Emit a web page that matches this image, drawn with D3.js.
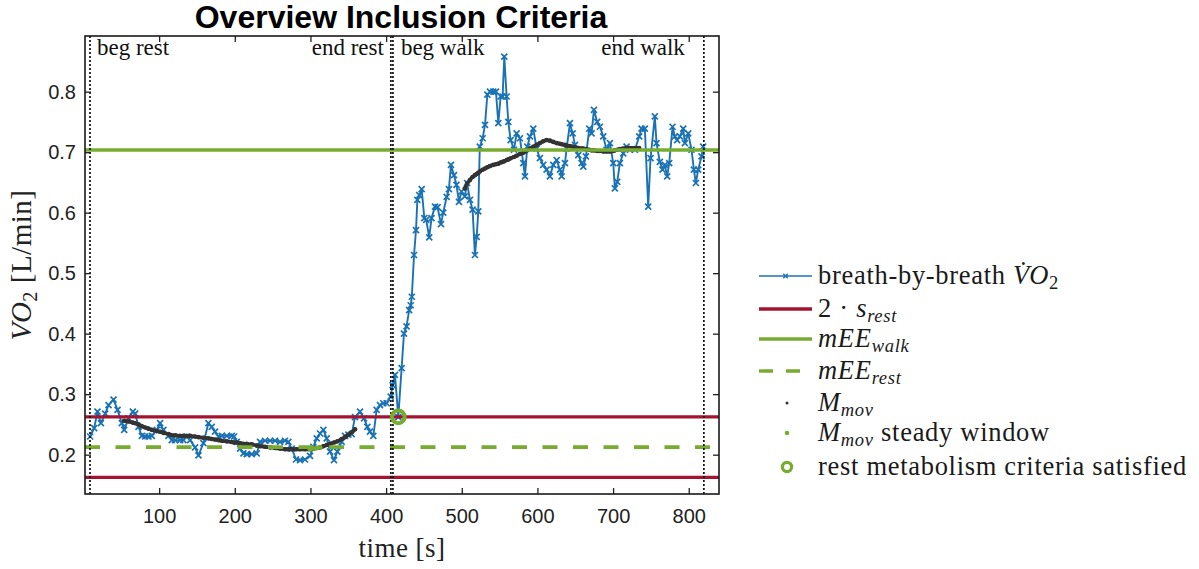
<!DOCTYPE html>
<html>
<head>
<meta charset="utf-8">
<script src="https://cdn.jsdelivr.net/npm/d3@7"></script>
<style>
  body { margin: 0; background: #fff; }
  svg { display: block; }
</style>
</head>
<body>
<svg id="chart" width="1199" height="569"></svg>
<script>
// ---- data ---------------------------------------------------------------
// breath-by-breath oxygen uptake: time [s] and VO2 [L/min]
const breathTime = [
  8.8, 14.1, 18.5, 23.0, 28.7, 33.1, 39.7, 45.0, 50.7, 53.8, 59.5, 65.2, 68.3, 72.7, 77.1, 81.5,
  85.9, 90.3, 96.9, 101.3, 105.7, 112.3, 116.7, 121.1, 127.7, 132.1, 136.5, 140.9, 147.5, 152.0,
  158.5, 165.1, 169.5, 173.9, 178.4, 182.8, 189.4, 196.0, 199.1, 202.6, 207.0, 211.4, 215.8,
  222.4, 229.0, 233.4, 240.0, 246.6, 253.2, 259.8, 266.4, 270.8, 275.2, 281.0, 286.2, 292.8,
  299.4, 303.8, 308.3, 312.7, 317.1, 321.5, 325.9, 331.1, 335.5, 341.3, 345.7, 350.1, 354.5,
  358.9, 365.5, 370.8, 375.2, 378.7, 383.1, 387.5, 391.9, 396.3, 400.7, 406.0, 408.6, 411.7,
  416.1, 420.5, 423.6, 427.0, 430.5, 432.5, 434.0, 436.9, 439.5, 441.3, 443.9, 447.0, 450.5,
  453.0, 457.0, 460.0, 464.6, 468.0, 472.5, 475.5, 480.0, 483.0, 485.7, 489.7, 493.0, 496.3,
  499.6, 504.0, 507.0, 510.8, 514.3, 517.4, 519.7, 521.8, 523.8, 527.6, 530.7, 533.8, 537.3,
  541.7, 545.2, 548.3, 551.4, 554.0, 556.2, 559.3, 561.5, 564.6, 569.0, 572.5, 576.9, 581.3,
  583.5, 586.6, 590.1, 594.5, 598.9, 603.3, 607.7, 612.1, 616.5, 620.9, 625.4, 629.8, 632.0,
  636.4, 638.6, 643.0, 646.5, 649.6, 654.0, 658.4, 660.6, 664.1, 668.5, 671.6, 674.7, 679.0,
  682.6, 687.0, 691.4, 695.8, 700.2, 702.4, 705.5, 709.0, 713.4, 717.8, 722.2, 728.8, 734.5,
  737.6, 742.0, 746.4, 749.5, 755.2, 757.4, 761.8, 765.3, 768.4, 771.5, 774.2, 778.6, 781.7,
  784.7, 788.3, 792.7, 794.9, 799.3, 803.7, 806.8, 809.4, 812.5, 816.9, 819.0
];
const breathVO2 = [
  0.230, 0.244, 0.271, 0.252, 0.268, 0.282, 0.291, 0.274, 0.252, 0.241, 0.260, 0.271, 0.268, 0.246, 0.231, 0.230,
  0.230, 0.231, 0.241, 0.252, 0.241, 0.231, 0.224, 0.224, 0.224, 0.224, 0.230, 0.224, 0.212, 0.199,
  0.219, 0.252, 0.246, 0.238, 0.230, 0.231, 0.231, 0.231, 0.230, 0.221, 0.210, 0.202, 0.201,
  0.201, 0.202, 0.221, 0.223, 0.223, 0.223, 0.221, 0.223, 0.221, 0.210, 0.192, 0.191, 0.192,
  0.198, 0.213, 0.227, 0.235, 0.241, 0.227, 0.205, 0.191, 0.205, 0.221, 0.231, 0.233, 0.234,
  0.262, 0.271, 0.260, 0.246, 0.238, 0.231, 0.274, 0.282, 0.285, 0.285, 0.296, 0.315, 0.332,
  0.262, 0.343, 0.400, 0.412, 0.439, 0.447, 0.461, 0.530, 0.571, 0.621, 0.629, 0.639, 0.591,
  0.588, 0.559, 0.591, 0.610, 0.609, 0.581, 0.600, 0.626, 0.639, 0.679, 0.662, 0.646, 0.618,
  0.635, 0.627, 0.649, 0.621, 0.605, 0.530, 0.560, 0.602, 0.709, 0.723, 0.745, 0.795, 0.800,
  0.800, 0.800, 0.748, 0.792, 0.792, 0.858, 0.792, 0.750, 0.720, 0.704, 0.731, 0.723, 0.682,
  0.660, 0.709, 0.726, 0.739, 0.706, 0.690, 0.679, 0.671, 0.660, 0.679, 0.687, 0.671, 0.660,
  0.682, 0.706, 0.748, 0.731, 0.712, 0.695, 0.682, 0.676, 0.693, 0.739, 0.731, 0.770, 0.750,
  0.742, 0.726, 0.704, 0.715, 0.682, 0.640, 0.651, 0.682, 0.698, 0.709, 0.704, 0.704, 0.726,
  0.739, 0.739, 0.610, 0.690, 0.759, 0.715, 0.684, 0.671, 0.679, 0.660, 0.682, 0.742, 0.726,
  0.720, 0.726, 0.739, 0.715, 0.731, 0.704, 0.671, 0.649, 0.671, 0.693, 0.709
];

// moving mean M_mov (rest block and walk block)
const movTime = [
  53.8, 59.5, 65.2, 68.3, 72.7, 77.1, 81.5, 85.9, 90.3, 96.9, 101.3, 105.7, 112.3, 116.7, 121.1,
  127.7, 132.1, 136.5, 140.9, 147.5, 152.0, 158.5, 165.1, 169.5, 173.9, 178.4, 182.8, 189.4,
  196.0, 199.1, 202.6, 207.0, 211.4, 215.8, 222.4, 229.0, 233.4, 240.0, 246.6, 253.2, 259.8,
  266.4, 270.8, 275.2, 281.0, 286.2, 292.8, 299.4, 303.8, 308.3, 312.7, 317.1, 321.5, 325.9,
  331.1, 335.5, 341.3, 345.7, 350.1, 354.5, 358.9,
  504.0, 507.0, 510.8, 514.3, 517.4, 519.7, 521.8, 523.8, 527.6, 530.7, 533.8, 537.3, 541.7,
  545.2, 548.3, 551.4, 554.0, 556.2, 559.3, 561.5, 564.6, 569.0, 572.5, 576.9, 581.3, 583.5,
  586.6, 590.1, 594.5, 598.9, 603.3, 607.7, 612.1, 616.5, 620.9, 625.4, 629.8, 632.0, 636.4,
  638.6, 643.0, 646.5, 649.6, 654.0, 658.4, 660.6, 664.1, 668.5, 671.6, 674.7, 679.0, 682.6,
  687.0, 691.4, 695.8, 700.2, 702.4, 705.5, 709.0, 713.4, 717.8, 722.2, 728.8, 734.5
];
const movVO2 = [
  0.256, 0.255, 0.253, 0.252, 0.250, 0.247, 0.245, 0.243, 0.241, 0.239, 0.238, 0.236, 0.234, 0.232, 0.232,
  0.231, 0.231, 0.231, 0.231, 0.230, 0.229, 0.228, 0.227, 0.226, 0.225, 0.224, 0.223, 0.222,
  0.221, 0.220, 0.220, 0.219, 0.218, 0.218, 0.217, 0.215, 0.214, 0.213, 0.212, 0.211, 0.210,
  0.209, 0.209, 0.209, 0.209, 0.209, 0.209, 0.209, 0.210, 0.211, 0.212, 0.214, 0.216, 0.218,
  0.220, 0.222, 0.226, 0.229, 0.233, 0.237, 0.242,
  0.640, 0.648, 0.654, 0.659, 0.662, 0.664, 0.666, 0.668, 0.671, 0.673, 0.675, 0.677, 0.679,
  0.680, 0.681, 0.683, 0.684, 0.685, 0.687, 0.688, 0.690, 0.692, 0.694, 0.697, 0.699, 0.701,
  0.703, 0.706, 0.709, 0.712, 0.715, 0.718, 0.720, 0.719, 0.717, 0.715, 0.714, 0.713, 0.712,
  0.711, 0.710, 0.709, 0.708, 0.707, 0.706, 0.706, 0.705, 0.704, 0.703, 0.703, 0.702, 0.702,
  0.701, 0.701, 0.701, 0.702, 0.703, 0.704, 0.705, 0.706, 0.707, 0.707, 0.707, 0.707
];
const movBlocks = [[0, 61], [61, movTime.length]];

// moving mean inside the steady window
const steadyTime = [299.4, 303.8, 308.3, 312.7];
const steadyVO2 = [0.209, 0.210, 0.211, 0.212];

// reference levels [L/min]
const mEEwalk = 0.7035;
const mEErest = 0.2125;
const restBand = [0.1625, 0.2625];   // mEE_rest -/+ 2*s_rest

// rest criterion hit
const criteriaTime = [416.1];
const criteriaVO2 = [0.2625];

// phase markers
const phaseTime = [8.6, 406.3, 409.0, 820.0];
const phaseLabels = ["beg rest", "end rest", "beg walk", "end walk"];
const phaseAnchor = ["start", "end", "start", "end"];
const phaseOffset = [7, -7, 8, -19];

// axes
const xTicks = [100, 200, 300, 400, 500, 600, 700, 800];
const yTicks = [0.2, 0.3, 0.4, 0.5, 0.6, 0.7, 0.8];

// ---- drawing ------------------------------------------------------------
const BLUE = "#1a72b4", RED = "#a2142f", GREEN = "#77ac30", DARK = "#333333";
const SERIF = "'Liberation Serif', 'Times New Roman', serif";
const SANS = "'Liberation Sans', Arial, Helvetica, sans-serif";

const svg = d3.select("#chart");
const L = 85, R = 719, T = 36, B = 494;

const x = d3.scaleLinear().domain([2, 840]).range([L, R]);
const y = d3.scaleLinear().domain([0.135, 0.892]).range([B, T]);

// title
svg.append("text")
  .attr("x", 401).attr("y", 28)
  .attr("text-anchor", "middle")
  .attr("font-family", SANS).attr("font-weight", "bold").attr("font-size", 32)
  .attr("fill", "#000")
  .text("Overview Inclusion Criteria");

const plot = svg.append("g");

// breath-by-breath line with x markers
const breath = breathTime.map((t, i) => [t, breathVO2[i]]);
plot.append("path")
  .datum(breath)
  .attr("fill", "none").attr("stroke", BLUE).attr("stroke-width", 1.9)
  .attr("stroke-linejoin", "round")
  .attr("d", d3.line().x(d => x(d[0])).y(d => y(d[1])));

const cross = 3;
plot.append("g").selectAll("path")
  .data(breath).join("path")
  .attr("transform", d => `translate(${x(d[0])},${y(d[1])})`)
  .attr("d", `M${-cross},${-cross}L${cross},${cross}M${-cross},${cross}L${cross},${-cross}`)
  .attr("stroke", BLUE).attr("stroke-width", 1.7).attr("fill", "none");

// moving mean, drawn as a dense dotted trace
movBlocks.forEach(([a, b]) => {
  const pts = movTime.slice(a, b).map((t, i) => [t, movVO2[a + i]]);
  plot.append("path")
    .datum(pts)
    .attr("fill", "none").attr("stroke", DARK).attr("stroke-width", 3.8)
    .attr("stroke-linecap", "round").attr("stroke-linejoin", "round")
    .attr("d", d3.line().curve(d3.curveMonotoneX).x(d => x(d[0])).y(d => y(d[1])));
});
plot.append("g").selectAll("circle")
  .data(movTime.map((t, i) => [t, movVO2[i]])).join("circle")
  .attr("cx", d => x(d[0])).attr("cy", d => y(d[1])).attr("r", 2.3)
  .attr("fill", DARK);

plot.append("g").selectAll("circle")
  .data(steadyTime.map((t, i) => [t, steadyVO2[i]])).join("circle")
  .attr("cx", d => x(d[0])).attr("cy", d => y(d[1])).attr("r", 2.4)
  .attr("fill", GREEN);

// reference levels
function hline(v, color, dash, width) {
  plot.append("line")
    .attr("x1", L).attr("x2", R).attr("y1", y(v)).attr("y2", y(v))
    .attr("stroke", color).attr("stroke-width", width)
    .attr("stroke-dasharray", dash || null);
}
hline(mEEwalk, GREEN, null, 3.6);
restBand.forEach(v => hline(v, RED, null, 3.2));
hline(mEErest, GREEN, "15,15.5", 3.6);

// phase boundaries
phaseTime.forEach((t, i) => {
  plot.append("line")
    .attr("x1", x(t)).attr("x2", x(t)).attr("y1", T).attr("y2", B)
    .attr("stroke", "#111").attr("stroke-width", 1.7)
    .attr("stroke-dasharray", "2,2");
  plot.append("text")
    .attr("x", x(t) + phaseOffset[i]).attr("y", 55)
    .attr("text-anchor", phaseAnchor[i])
    .attr("font-family", SERIF).attr("font-size", 23).attr("fill", "#111")
    .text(phaseLabels[i]);
});

// rest criterion marker
plot.append("g").selectAll("circle")
  .data(criteriaTime.map((t, i) => [t, criteriaVO2[i]])).join("circle")
  .attr("cx", d => x(d[0])).attr("cy", d => y(d[1])).attr("r", 6.4)
  .attr("fill", "none").attr("stroke", GREEN).attr("stroke-width", 4);

// frame and ticks
const axisStyle = g => {
  g.select(".domain").remove();
  g.selectAll(".tick line").attr("stroke", "#222").attr("stroke-width", 1.3);
  g.selectAll(".tick text").attr("font-family", SANS).attr("font-size", 20).attr("fill", "#222");
};
svg.append("g").attr("transform", `translate(0,${B})`)
  .call(d3.axisBottom(x).tickValues(xTicks).tickSize(-6).tickPadding(15).tickFormat(d3.format("d")))
  .call(axisStyle);
svg.append("g").attr("transform", `translate(0,${T})`)
  .call(d3.axisTop(x).tickValues(xTicks).tickSize(-6).tickFormat(""))
  .call(axisStyle);
svg.append("g").attr("transform", `translate(${L},0)`)
  .call(d3.axisLeft(y).tickValues(yTicks).tickSize(-6).tickPadding(9).tickFormat(d3.format(".1f")))
  .call(axisStyle);
svg.append("g").attr("transform", `translate(${R},0)`)
  .call(d3.axisRight(y).tickValues(yTicks).tickSize(-6).tickFormat(""))
  .call(axisStyle);

svg.append("rect")
  .attr("x", L).attr("y", T).attr("width", R - L).attr("height", B - T)
  .attr("fill", "none").attr("stroke", "#1a1a1a").attr("stroke-width", 1.6);

// text with italic parts and subscripts
function rich(sel, parts, size) {
  let shift = 0;
  parts.forEach(p => {
    const target = p.sub ? size * 0.2 : 0;
    const ts = sel.append("tspan").text(p.t)
      .attr("font-size", p.sub ? size * 0.7 : size)
      .attr("dy", target - shift);
    shift = target;
    if (p.i) ts.attr("font-style", "italic");
  });
}

// axis titles
const xt = svg.append("text")
  .attr("x", 402).attr("y", 557).attr("text-anchor", "middle")
  .attr("font-family", SERIF).attr("fill", "#222")
  .attr("letter-spacing", 0.5);
rich(xt, [{ t: "time [s]" }], 27);

const yt = svg.append("text")
  .attr("transform", "translate(31,265) rotate(-90)").attr("text-anchor", "middle")
  .attr("font-family", SERIF).attr("fill", "#222")
  .attr("letter-spacing", 0.5);
rich(yt, [{ t: "VO", i: true }, { t: "2", sub: true }, { t: " [L/min]" }], 29);

// legend
const legendY = [276, 309, 339, 371, 403, 433, 467];
const lx0 = 759, lx1 = 812, ltx = 818, lsize = 26.5;
const legend = svg.append("g").attr("font-family", SERIF).attr("fill", "#1a1a1a")
  .attr("letter-spacing", 0.7);
const entries = [
  { parts: [{ t: "breath-by-breath " }, { t: "V\u0307O", i: true }, { t: "2", sub: true }] },
  { parts: [{ t: "2 \u00b7 " }, { t: "s", i: true }, { t: "rest", i: true, sub: true }] },
  { parts: [{ t: "mEE", i: true }, { t: "walk", i: true, sub: true }] },
  { parts: [{ t: "mEE", i: true }, { t: "rest", i: true, sub: true }] },
  { parts: [{ t: "M", i: true }, { t: "mov", i: true, sub: true }] },
  { parts: [{ t: "M", i: true }, { t: "mov", i: true, sub: true }, { t: " steady window" }] },
  { parts: [{ t: "rest metabolism criteria satisfied" }] }
];
entries.forEach((e, i) => {
  const ly = legendY[i];
  if (i === 0) {
    legend.append("line").attr("x1", lx0).attr("x2", lx1).attr("y1", ly).attr("y2", ly)
      .attr("stroke", BLUE).attr("stroke-width", 1.6);
    const cx = (lx0 + lx1) / 2, c = 2.2;
    legend.append("path")
      .attr("d", `M${cx - c},${ly - c}L${cx + c},${ly + c}M${cx - c},${ly + c}L${cx + c},${ly - c}`)
      .attr("stroke", BLUE).attr("stroke-width", 1.4);
  } else if (i === 1 || i === 2) {
    legend.append("line").attr("x1", lx0).attr("x2", lx1).attr("y1", ly).attr("y2", ly)
      .attr("stroke", i === 1 ? RED : GREEN).attr("stroke-width", 3.4);
  } else if (i === 3) {
    legend.append("line").attr("x1", lx0).attr("x2", lx1).attr("y1", ly).attr("y2", ly)
      .attr("stroke", GREEN).attr("stroke-width", 3.4).attr("stroke-dasharray", "14,13");
  } else if (i === 4 || i === 5) {
    legend.append("circle").attr("cx", 787).attr("cy", ly).attr("r", i === 4 ? 1.5 : 2.3)
      .attr("fill", i === 4 ? DARK : GREEN);
  } else {
    legend.append("circle").attr("cx", 787).attr("cy", ly).attr("r", 4.6)
      .attr("fill", "none").attr("stroke", GREEN).attr("stroke-width", 3.2);
  }
  const tx = legend.append("text").attr("x", ltx).attr("y", ly + 8);
  rich(tx, e.parts, lsize);
});
</script>
</body>
</html>
